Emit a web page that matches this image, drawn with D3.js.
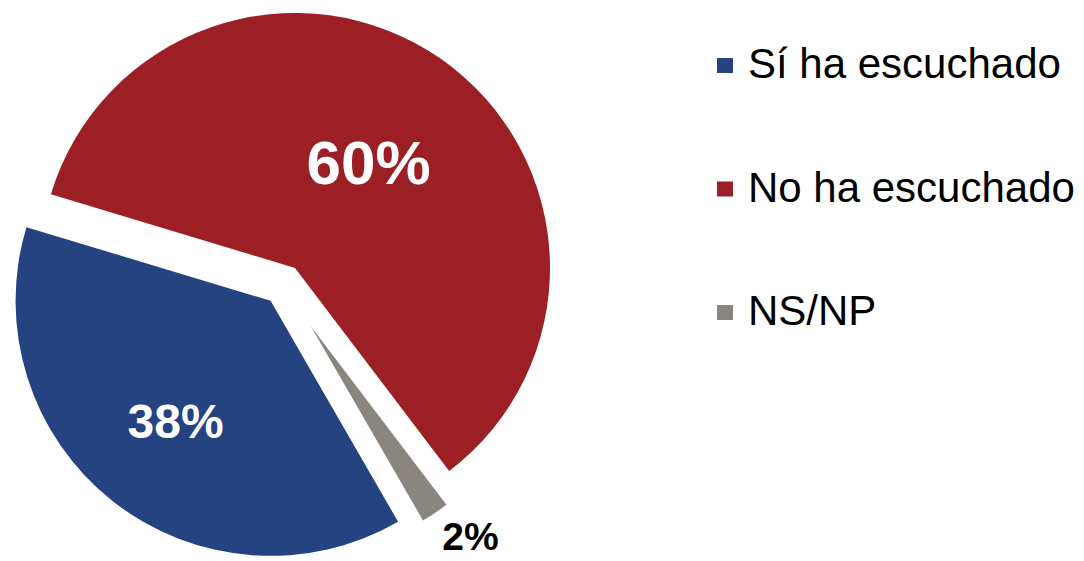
<!DOCTYPE html>
<html>
<head>
<meta charset="utf-8">
<script src="https://cdn.jsdelivr.net/npm/d3@7"></script>
<style>
  html, body { margin: 0; padding: 0; background: #fff; }
  svg { display: block; font-family: "Liberation Sans", Arial, sans-serif; }
</style>
</head>
<body>
<div id="chart"></div>
<script>
// Data
const categories = ["Sí ha escuchado", "No ha escuchado", "NS/NP"];
const values = [38, 60, 2];
const labels = ["38%", "60%", "2%"];

const width = 1084, height = 561;
const colors = ["#264381", "#9c1f25", "#8b8580"];

// slice look (explode distance, outer radius, label placement)
const explode = [20.5, 20.5, 50];
const radii = [255, 255, 224];
const labelDist = [153, 129, 252];
const labelDx = [0, 0, 20];
const labelSize = [48, 62, 39];
const labelColor = ["#fff", "#fff", "#000"];

const cx = 283.3, cy = 284.8;

const svg = d3.select("#chart").append("svg")
    .attr("width", width)
    .attr("height", height);

const start = 150 * Math.PI / 180;
const pie = d3.pie().sort(null).startAngle(start).endAngle(start + 2 * Math.PI);
const arcs = pie(values);

const g = svg.append("g").attr("transform", `translate(${cx},${cy})`);

arcs.forEach((a, i) => {
    const mid = (a.startAngle + a.endAngle) / 2;
    const ox = Math.sin(mid) * explode[i];
    const oy = -Math.cos(mid) * explode[i];
    const arc = d3.arc().innerRadius(0).outerRadius(radii[i]);

    const slice = g.append("g").attr("transform", `translate(${ox},${oy})`);
    slice.append("path")
        .attr("d", arc(a))
        .attr("fill", colors[i]);

    // percentage label, vertically centred on digits
    const lx = Math.sin(mid) * labelDist[i] + labelDx[i];
    const ly = -Math.cos(mid) * labelDist[i];
    slice.append("text")
        .attr("x", lx)
        .attr("y", ly + labelSize[i] * 0.358)
        .attr("text-anchor", "middle")
        .attr("font-weight", "bold")
        .attr("font-size", labelSize[i])
        .attr("fill", labelColor[i])
        .text(labels[i]);
});

// Legend
const legend = svg.append("g").attr("transform", "translate(717,78)");
const rowGap = 123.5;

categories.forEach((c, i) => {
    const row = legend.append("g").attr("transform", `translate(0,${i * rowGap})`);
    row.append("rect")
        .attr("x", 0)
        .attr("y", -20)
        .attr("width", 16)
        .attr("height", 15)
        .attr("fill", colors[i]);
    row.append("text")
        .attr("x", 31)
        .attr("y", 0)
        .attr("font-size", 42)
        .attr("fill", "#000")
        .text(c);
});
</script>
</body>
</html>
